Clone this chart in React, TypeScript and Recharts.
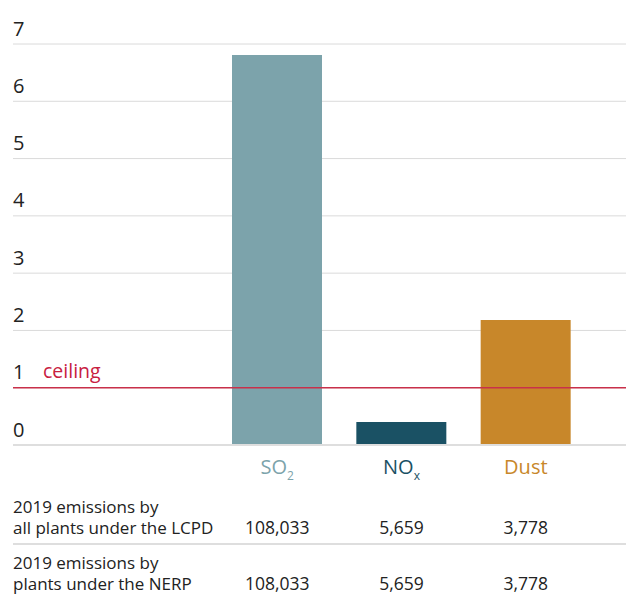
import React from 'react';
import { BarChart, Bar, Cell, XAxis, YAxis, CartesianGrid, ReferenceLine } from 'recharts';

// values
const categories = ['SO2', 'NOx', 'Dust'];
const emissions = [6.81, 0.4, 2.18];
const lcpdTotals = ['108,033', '5,659', '3,778'];
const nerpTotals = ['108,033', '5,659', '3,778'];
const yTicks = [0, 1, 2, 3, 4, 5, 6, 7];
const ceiling = 1;

const barColors: Record<string, string> = { SO2: '#7ca3ab', NOx: '#1a5164', Dust: '#c8872a' };
const FONT = '"Open Sans", "Noto Sans", sans-serif';

const data = categories.map((name, i) => ({
  name,
  value: emissions[i],
  lcpd: lcpdTotals[i],
  nerp: nerpTotals[i],
}));

const YTick = (props: any) => {
  const { x, y, payload } = props;
  return (
    <text x={x} y={y - 16} textAnchor="start" dominantBaseline="central" fontSize={20} fill="#222" fontFamily={FONT}>
      {payload.value}
    </text>
  );
};

const XTick = (props: any) => {
  const { x, y, payload, index } = props;
  const name: string = payload.value;
  const color = barColors[name];
  const row = data[index];
  let label: React.ReactNode = name;
  if (name === 'SO2') label = (<><tspan>SO</tspan><tspan fontSize={12} dy={6}>2</tspan></>);
  if (name === 'NOx') label = (<><tspan>NO</tspan><tspan fontSize={12} dy={6}>x</tspan></>);
  return (
    <g fontFamily={FONT}>
      <text x={x} y={y + 29} textAnchor="middle" fontSize={20} fill={color}>{label}</text>
      <text x={x} y={y + 89} textAnchor="middle" fontSize={17.5} fill="#222">{row?.lcpd}</text>
      <text x={x} y={y + 145} textAnchor="middle" fontSize={17.5} fill="#222">{row?.nerp}</text>
    </g>
  );
};

const CeilingLabel = (props: any) => {
  const { viewBox } = props;
  return (
    <text x={viewBox.x + 30} y={viewBox.y - 17} dominantBaseline="central" fontSize={19.5} fill="#c8203f" fontFamily={FONT}>
      ceiling
    </text>
  );
};

const rowLabel: React.CSSProperties = {
  position: 'absolute',
  left: 13,
  fontFamily: FONT,
  fontSize: 17,
  lineHeight: '21px',
  color: '#222',
  whiteSpace: 'nowrap',
};

export default function App() {
  return (
    <div style={{ position: 'absolute', left: 0, top: 0, width: 626, height: 594, background: '#fff' }}>
      <BarChart width={626} height={594} data={data} margin={{ top: 44, right: 0, bottom: 0, left: 0 }}>
        <CartesianGrid vertical={false} stroke="#dadada" strokeWidth={1} />
        <YAxis
          domain={[0, 7]}
          ticks={yTicks}
          width={13}
          axisLine={false}
          tickLine={false}
          tickSize={0}
          tickMargin={0}
          tick={(p: any) => <YTick {...p} />}
        />
        <XAxis
          dataKey="name"
          height={149}
          padding={{ left: 202, right: 38 }}
          axisLine={{ stroke: '#dedede', strokeWidth: 2 }}
          tickLine={false}
          tickSize={0}
          tickMargin={0}
          tick={(p: any) => <XTick {...p} />}
          interval={0}
        />
        <ReferenceLine y={ceiling} stroke="#c9304a" strokeWidth={1.5} label={<CeilingLabel />} />
        <Bar dataKey="value" barSize={90} isAnimationActive={false}>
          {data.map((d) => (
            <Cell key={d.name} fill={barColors[d.name]} />
          ))}
        </Bar>
      </BarChart>
      <div style={{ ...rowLabel, top: 496 }}>2019 emissions by<br />all plants under the LCPD</div>
      <div style={{ position: 'absolute', left: 13, top: 543, width: 613, height: 2, background: '#dedede' }} />
      <div style={{ ...rowLabel, top: 552 }}>2019 emissions by<br />plants under the NERP</div>
    </div>
  );
}
